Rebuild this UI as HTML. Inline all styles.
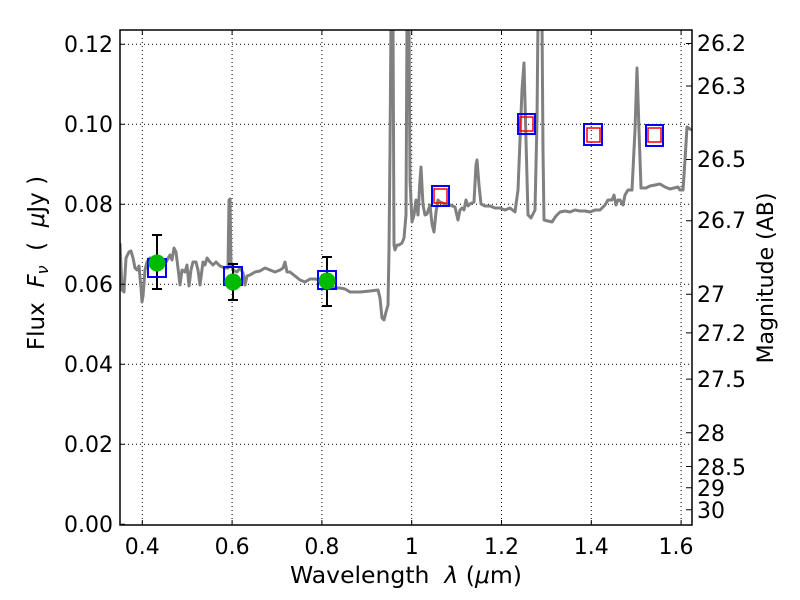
<!DOCTYPE html>
<html><head><meta charset="utf-8"><style>body{margin:0;background:#fff}svg{display:block}text{font-family:"DejaVu Sans","Liberation Sans",sans-serif;fill:#000}</style></head><body>
<svg width="800" height="600" viewBox="0 0 800 600" xmlns="http://www.w3.org/2000/svg">
<rect width="800" height="600" fill="#fff"/>
<g stroke="#000" stroke-width="1" stroke-dasharray="1,3">
<line x1="142.3" y1="30" x2="142.3" y2="525"/><line x1="232.1" y1="30" x2="232.1" y2="525"/><line x1="321.9" y1="30" x2="321.9" y2="525"/><line x1="411.7" y1="30" x2="411.7" y2="525"/><line x1="501.5" y1="30" x2="501.5" y2="525"/><line x1="591.3" y1="30" x2="591.3" y2="525"/><line x1="681.1" y1="30" x2="681.1" y2="525"/>
<line x1="120" y1="44.3" x2="692" y2="44.3"/><line x1="120" y1="124.3" x2="692" y2="124.3"/><line x1="120" y1="204.3" x2="692" y2="204.3"/><line x1="120" y1="284.3" x2="692" y2="284.3"/><line x1="120" y1="364.3" x2="692" y2="364.3"/><line x1="120" y1="444.3" x2="692" y2="444.3"/>
</g>
<defs><clipPath id="c"><rect x="120" y="30" width="572" height="495"/></clipPath></defs>
<polyline clip-path="url(#c)" fill="none" stroke="#808080" stroke-width="3" stroke-linejoin="round" points="120,243 122,290 124,292 126,258 129,252 131,251 133,258 135,268 137,270 139,266 141,288 142,302 143,296 145,270 147,262 150,258 152,265 154,266 156,262 158,258 160,260 163,266 166,262 170,255 172,260 174,248 176,252 178,268 180,285 182,270 185,272 187,265 189,286 191,270 193,262 196,262 198,270 200,285 203,262 205,265 207,258 210,262 213,265 216,262 220,266 225,268 228,268 229,200 230,199 231,265 233,270 237,272 240,268 243,273 245,285 247,276 250,275 255,272 260,271 265,268 270,270 275,272 280,270 283,268 285,262 287,272 290,272 295,276 300,280 305,282 310,279 315,279 320,280 325,283 330,285 335,288 340,288 345,289 350,292 355,292 360,292 370,291 378,290 380,298 382,318 384,320 386,312 388,305 389,250 390,150 391,20 393,20 394,245 395,250 397,245 399,245 402,243 404,238 406,215 407,20 409,20 410,180 412,222 414,215 416,200 418,215 420,180 421,167 423,205 425,215 427,214 430,205 432,224 434,232 436,212 438,200 440,202 445,204 450,205 455,207 458,220 460,210 462,208 464,210 466,200 468,206 470,204 474,202 476,165 477,160 479,185 481,204 485,206 490,206 495,208 500,208 505,210 510,208 515,212 518,190 520,140 522,90 524,63 526,140 528,215 531,218 533,214 535,210 537,120 538,20 542,20 543,150 544,220 548,221 552,222 556,216 560,212 565,211 570,212 575,210 580,211 585,211 590,212 595,210 600,210 605,205 608,200 612,200 614,195 616,205 618,200 620,200 623,205 625,195 628,190 632,190 635,130 637,68 639,130 641,188 646,188 650,186 655,185 660,184 665,187 670,189 674,188 678,187 680,190 683,190 685,160 687,127 690,129 692,130"/>
<g stroke="#000" stroke-width="2">
<line x1="157" y1="235" x2="157" y2="289"/><line x1="152" y1="235" x2="162" y2="235"/><line x1="152" y1="289" x2="162" y2="289"/>
<line x1="233" y1="264" x2="233" y2="300"/><line x1="228" y1="264" x2="238" y2="264"/><line x1="228" y1="300" x2="238" y2="300"/>
<line x1="327" y1="257" x2="327" y2="306"/><line x1="322" y1="257" x2="332" y2="257"/><line x1="322" y1="306" x2="332" y2="306"/>
</g>
<g fill="none" stroke="#0000ff" stroke-width="2">
<rect x="148" y="259" width="18" height="18"/><rect x="224" y="267" width="18" height="18"/><rect x="318" y="271" width="18" height="18"/>
<rect x="432" y="186" width="17" height="20"/><rect x="518" y="114" width="17" height="20"/><rect x="584" y="124" width="18" height="21"/><rect x="646" y="125" width="17" height="21"/>
</g>
<g fill="none" stroke="#ff0000" stroke-width="1.5">
<rect x="434" y="189" width="13" height="14"/><rect x="520" y="117" width="13" height="14"/><rect x="587" y="128" width="13" height="14"/><rect x="648" y="128" width="13" height="14"/>
</g>
<g fill="#00bb00"><circle cx="157" cy="263" r="8.5"/><circle cx="233" cy="282" r="8.5"/><circle cx="327" cy="281" r="8.5"/></g>
<rect x="120" y="30" width="572" height="495" fill="none" stroke="#000" stroke-width="1.5"/>
<g stroke="#000" stroke-width="1">
<path d="M142.3 525v-5M232.1 525v-5M321.9 525v-5M411.7 525v-5M501.5 525v-5M591.3 525v-5M681.1 525v-5M142.3 30v5M232.1 30v5M321.9 30v5M411.7 30v5M501.5 30v5M591.3 30v5M681.1 30v5"/>
<path d="M120 44.3h5M120 124.3h5M120 204.3h5M120 284.3h5M120 364.3h5M120 444.3h5M120 524.3h5"/>
<path d="M692 43.5h-6M692 86h-6M692 159.5h-6M692 220.7h-6M692 294.3h-6M692 332.9h-6M692 379.1h-6M692 432.7h-6M692 466.5h-6M692 487.8h-6M692 509.8h-6"/>
</g>
<g font-size="22" text-anchor="end">
<text x="113" y="52">0.12</text><text x="113" y="132">0.10</text><text x="113" y="212">0.08</text><text x="113" y="292">0.06</text><text x="113" y="372">0.04</text><text x="113" y="452">0.02</text><text x="113" y="532">0.00</text>
</g>
<g font-size="22" text-anchor="middle">
<text x="142.3" y="554">0.4</text><text x="232.1" y="554">0.6</text><text x="321.9" y="554">0.8</text><text x="411.7" y="554">1</text><text x="501.5" y="554">1.2</text><text x="591.3" y="554">1.4</text><text x="676" y="554">1.6</text>
</g>
<g font-size="22">
<text x="697" y="51">26.2</text><text x="697" y="94">26.3</text><text x="697" y="167">26.5</text><text x="697" y="228">26.7</text><text x="697" y="302">27</text><text x="697" y="341">27.2</text><text x="697" y="387">27.5</text><text x="697" y="441">28</text><text x="697" y="475">28.5</text><text x="697" y="496">29</text><text x="697" y="518">30</text>
</g>
<text x="406" y="583" font-size="23.5" text-anchor="middle" xml:space="preserve">Wavelength  <tspan font-style="italic">λ</tspan> (<tspan font-style="italic">μ</tspan>m)</text>
<text transform="translate(44,263) rotate(-90)" font-size="23" text-anchor="middle" xml:space="preserve">Flux  <tspan font-style="italic">F</tspan><tspan font-style="italic" font-size="16" dy="4">ν</tspan><tspan dy="-4">  (  </tspan><tspan font-style="italic">μ</tspan>Jy )</text>
<text transform="translate(773,278) rotate(-90)" font-size="22" text-anchor="middle">Magnitude (AB)</text>
</svg>
</body></html>
